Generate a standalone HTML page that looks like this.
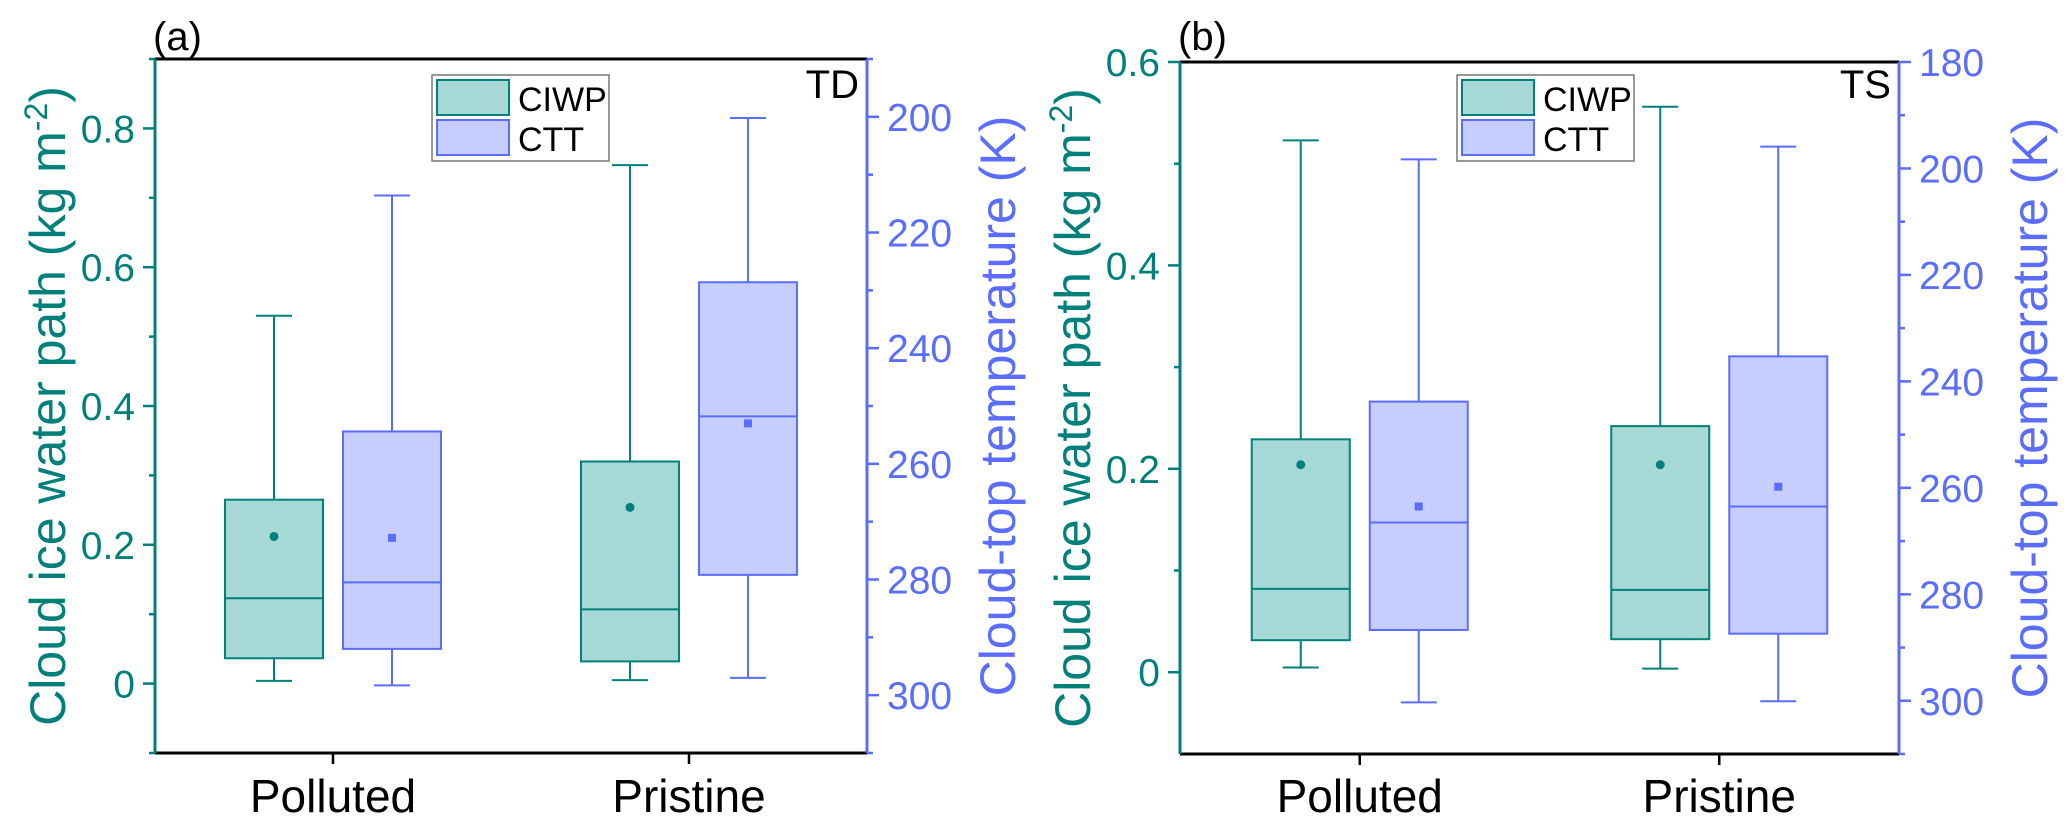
<!DOCTYPE html>
<html><head><meta charset="utf-8">
<style>
html,body{margin:0;padding:0;background:#fff;}
svg{display:block;font-family:"Liberation Sans",Arial,sans-serif;}
</style></head>
<body>
<svg id="chart" width="2067" height="831" viewBox="0 0 2067 831" xmlns="http://www.w3.org/2000/svg"></svg>
<script>
// ---- data ----
const categories = ['Polluted', 'Pristine'];
const seriesNames = ['CIWP', 'CTT'];
// [min, q1, median, q3, max, mean]
const tdCiwpPolluted = [0.004, 0.0365, 0.123, 0.265, 0.530, 0.212];
const tdCiwpPristine = [0.005, 0.032, 0.107, 0.320, 0.747, 0.254];
const tdCttPolluted = [298.3, 292.0, 280.5, 254.4, 213.6, 272.8];
const tdCttPristine = [297.0, 279.2, 251.8, 228.6, 200.2, 253.0];
const tsCiwpPolluted = [0.0046, 0.0315, 0.082, 0.229, 0.523, 0.204];
const tsCiwpPristine = [0.0036, 0.0325, 0.081, 0.242, 0.556, 0.204];
const tsCttPolluted = [300.3, 286.7, 266.5, 243.8, 198.3, 263.5];
const tsCttPristine = [300.1, 287.4, 263.5, 235.3, 195.9, 259.8];
const tdLeftTicks = [0, 0.2, 0.4, 0.6, 0.8];
const tdRightTicks = [200, 220, 240, 260, 280, 300];
const tsLeftTicks = [0, 0.2, 0.4, 0.6];
const tsRightTicks = [180, 200, 220, 240, 260, 280, 300];

const TEAL = '#00807a', TEALF = '#a6d8d5', BLUE = '#5b6dff', BLUEF = '#c6cdff';
const NS = 'http://www.w3.org/2000/svg';
const svg = document.getElementById('chart');
function mk(tag, attrs, parent) {
  const e = document.createElementNS(NS, tag);
  for (const k in attrs) e.setAttribute(k, attrs[k]);
  (parent || svg).appendChild(e);
  return e;
}
function fmt(v) { return v === 0 ? '0' : v.toFixed(1); }

function panel(cfg) {
  const g = mk('g', {});
  
  
  const L = cfg.x0, R = cfg.x1, T = cfg.y0, B = cfg.y1;
  const yL = v => B - (v - cfg.lmin) / (cfg.lmax - cfg.lmin) * (B - T);
  const yR = v => T + (v - cfg.rtop) / (cfg.rbot - cfg.rtop) * (B - T);
  const xC = i => L + (R - L) * (0.25 + 0.5 * i);

  let e = mk('line', {x1: L, y1: T, x2: R, y2: T, stroke: '#000', 'stroke-width': 3}, g);
   
  e = mk('line', {x1: L, y1: B, x2: R, y2: B, stroke: '#000', 'stroke-width': 3}, g);
   
  e = mk('line', {x1: L, y1: T, x2: L, y2: B, stroke: TEAL, 'stroke-width': 3}, g);
   
  e = mk('line', {x1: R, y1: T, x2: R, y2: B, stroke: BLUE, 'stroke-width': 3}, g);
   

  for (let v = Math.ceil(cfg.lmin * 10) / 10; v <= cfg.lmax + 1e-9; v += 0.1) {
    const y = yL(v);
    const major = cfg.lticks.some(t => Math.abs(t - v) < 1e-6);
    mk('line', {x1: L - (major ? 12 : 6), y1: y, x2: L, y2: y, stroke: TEAL, 'stroke-width': 2.5}, g);
  }
  cfg.lticks.forEach(v => {
    const t = mk('text', {x: L - 20, y: yL(v) + 14, 'text-anchor': 'end', 'font-size': 39, fill: TEAL}, g);
    t.textContent = fmt(v);
     
  });
  for (let v = cfg.rticks[0] - 10; v <= cfg.rbot; v += 10) {
    if (v < cfg.rtop) continue;
    const y = yR(v);
    const major = cfg.rticks.indexOf(v) >= 0;
    mk('line', {x1: R, y1: y, x2: R + (major ? 12 : 6), y2: y, stroke: BLUE, 'stroke-width': 2.5}, g);
  }
  cfg.rticks.forEach(v => {
    const t = mk('text', {x: R + 20, y: yR(v) + 14, 'text-anchor': 'start', 'font-size': 39, fill: BLUE}, g);
    t.textContent = v;
     
  });
  categories.forEach((c, i) => {
    mk('line', {x1: xC(i), y1: B, x2: xC(i), y2: B + 11, stroke: '#000', 'stroke-width': 2.5}, g);
    const t = mk('text', {x: xC(i), y: 812, 'text-anchor': 'middle', 'font-size': 46, fill: '#000'}, g);
    t.textContent = c;
     
  });
  const cy = (T + B) / 2;
  let t = mk('text', {x: 0, y: 0, transform: `translate(${L - 90},${cy}) rotate(-90)`, 'text-anchor': 'middle', 'font-size': 50, fill: TEAL}, g);
  t.innerHTML = 'Cloud ice water path (kg m<tspan dy="-18" font-size="32">-2</tspan><tspan dy="18">)</tspan>';
   
  t = mk('text', {x: 0, y: 0, transform: `translate(${R + 148},${cy}) rotate(-90)`, 'text-anchor': 'middle', 'font-size': 50, fill: BLUE}, g);
  t.textContent = 'Cloud-top temperature (K)';
   
  t = mk('text', {x: L - 2, y: 50, 'font-size': 40, fill: '#000'}, g);
  t.textContent = cfg.label;
   
  t = mk('text', {x: R - 8, y: 98, 'text-anchor': 'end', 'font-size': 40, fill: '#000'}, g);
  t.textContent = cfg.tag;
   

  function box(st, xc, ymap, stroke, fill, name, square) {
    const bg = mk('g', {}, g);
    
    
    const hw = 49, cap = 18;
    const yMin = ymap(st[0]), yQ1 = ymap(st[1]), yMed = ymap(st[2]), yQ3 = ymap(st[3]), yMax = ymap(st[4]), yMean = ymap(st[5]);
    mk('line', {x1: xc, y1: yMax, x2: xc, y2: Math.min(yQ1, yQ3), stroke, 'stroke-width': 2}, bg);
    mk('line', {x1: xc, y1: yMin, x2: xc, y2: Math.max(yQ1, yQ3), stroke, 'stroke-width': 2}, bg);
    mk('line', {x1: xc - cap, y1: yMax, x2: xc + cap, y2: yMax, stroke, 'stroke-width': 2}, bg);
    mk('line', {x1: xc - cap, y1: yMin, x2: xc + cap, y2: yMin, stroke, 'stroke-width': 2}, bg);
    const top = Math.min(yQ1, yQ3), h = Math.abs(yQ1 - yQ3);
    mk('rect', {x: xc - hw, y: top, width: 2 * hw, height: h, fill, stroke, 'stroke-width': 2}, bg);
    mk('line', {x1: xc - hw, y1: yMed, x2: xc + hw, y2: yMed, stroke, 'stroke-width': 2}, bg);
    if (square) mk('rect', {x: xc - 4, y: yMean - 4, width: 8, height: 8, fill: stroke}, bg);
    else mk('circle', {cx: xc, cy: yMean, r: 4.5, fill: stroke}, bg);
  }
  categories.forEach((c, i) => {
    box(cfg.ciwp[i], xC(i) - 59, yL, TEAL, TEALF, 'ciwp-box-' + c.toLowerCase(), false);
    box(cfg.ctt[i], xC(i) + 59, yR, BLUE, BLUEF, 'ctt-box-' + c.toLowerCase(), true);
  });

  const lg = mk('g', {}, g);
  
  
  const lx = L + 277, ly = 75;
  mk('rect', {x: lx, y: ly, width: 177, height: 86, fill: '#fff', stroke: '#777', 'stroke-width': 1.5}, lg);
  [[TEAL, TEALF], [BLUE, BLUEF]].forEach((cc, k) => {
    const ent = mk('g', {}, lg);
    
    
    mk('rect', {x: lx + 5, y: ly + 5 + k * 40, width: 72, height: 35, fill: cc[1], stroke: cc[0], 'stroke-width': 2}, ent);
    const tt = mk('text', {x: lx + 86, y: ly + 36 + k * 40, 'font-size': 34, fill: '#000'}, ent);
    tt.textContent = seriesNames[k];
  });
}

panel({id: 'td', label: '(a)', tag: 'TD', x0: 155, x1: 867, y0: 59, y1: 753,
  lmin: -0.1, lmax: 0.9, rtop: 190, rbot: 310, lticks: tdLeftTicks, rticks: tdRightTicks,
  ciwp: [tdCiwpPolluted, tdCiwpPristine], ctt: [tdCttPolluted, tdCttPristine]});
panel({id: 'ts', label: '(b)', tag: 'TS', x0: 1180, x1: 1899, y0: 62, y1: 754,
  lmin: -0.0804, lmax: 0.6, rtop: 180, rbot: 310, lticks: tsLeftTicks, rticks: tsRightTicks,
  ciwp: [tsCiwpPolluted, tsCiwpPristine], ctt: [tsCttPolluted, tsCttPristine]});
</script>
</body></html>
